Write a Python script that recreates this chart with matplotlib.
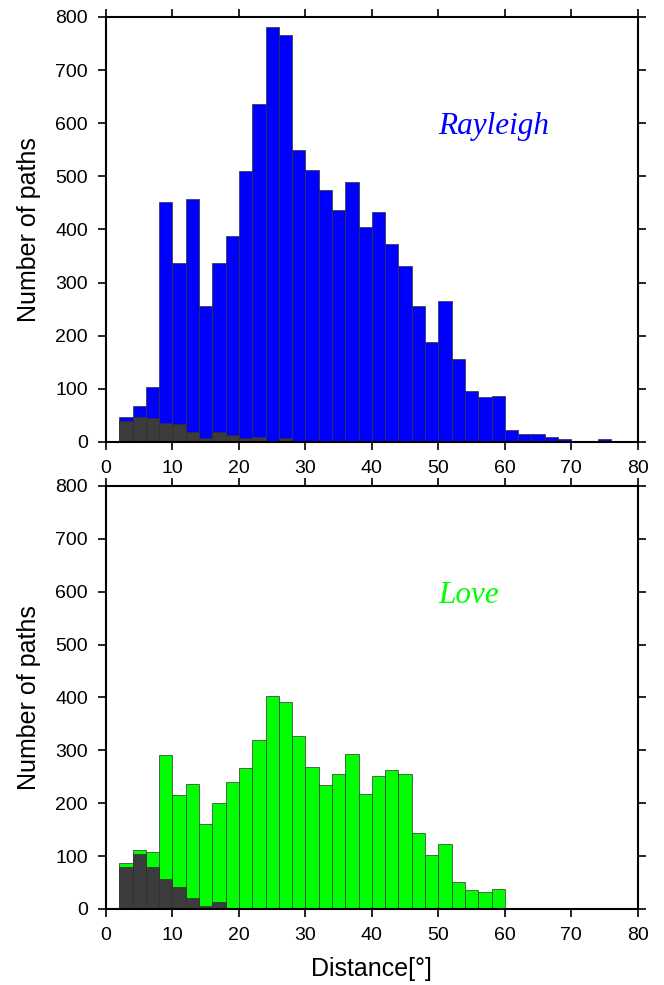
import numpy as np
import matplotlib
matplotlib.use("Agg")
import matplotlib.pyplot as plt

# 2-degree distance bins, 0..80
bin_edges = np.arange(0, 82, 2)

rayleigh_all = [1, 47, 68, 104, 451, 336, 458, 256, 336, 387,
                510, 637, 781, 766, 549, 512, 474, 436, 490, 404,
                432, 372, 332, 256, 189, 266, 156, 95, 84, 87,
                23, 15, 15, 10, 5, 1, 1, 5, 2, 0]
rayleigh_sub = [1, 40, 47, 46, 36, 33, 19, 8, 19, 13,
                8, 9, 0, 7, 0, 0, 0, 0, 0, 0,
                0, 0, 0, 0, 0, 0, 0, 0, 0, 0,
                0, 0, 0, 0, 0, 0, 0, 0, 0, 0]

love_all = [2, 86, 111, 107, 292, 216, 237, 160, 200, 241,
            266, 320, 402, 391, 327, 269, 235, 256, 294, 218,
            252, 262, 256, 144, 103, 122, 51, 35, 32, 37,
            1, 0, 0, 0, 0, 0, 0, 0, 0, 0]
love_sub = [2, 79, 104, 79, 57, 42, 20, 5, 13, 0,
            0, 0, 0, 0, 0, 0, 0, 0, 0, 0,
            0, 0, 0, 0, 0, 0, 0, 0, 0, 0,
            0, 0, 0, 0, 0, 0, 0, 0, 0, 0]

panels = [("Rayleigh", "#0000ff", rayleigh_all, rayleigh_sub),
          ("Love", "#00ff00", love_all, love_sub)]

plt.rcParams['font.family'] = ['Liberation Sans', 'DejaVu Sans']

fig = plt.figure(figsize=(6.64, 9.85), dpi=100)
rects = [[0.1596, 0.5513, 0.801, 0.4315],
         [0.1596, 0.0772, 0.801, 0.4294]]

left = bin_edges[:-1]
width = np.diff(bin_edges)

for i, (name, color, allv, subv) in enumerate(panels):
    ax = fig.add_axes(rects[i])
    ax.bar(left, allv, width=width, align='edge', color=color,
           edgecolor='#303030', linewidth=0.5)
    ax.bar(left, subv, width=width, align='edge', color='#3c3c3c',
           edgecolor='#303030', linewidth=0.5)
    ax.set_xlim(0, 80)
    ax.set_ylim(0, 800)
    ax.set_xticks(np.arange(0, 81, 10))
    ax.set_yticks(np.arange(0, 801, 100))
    ax.tick_params(direction='out', length=6, width=1.2, labelsize=14, pad=7,
                   top=True, right=True, labeltop=False, labelright=False)
    for s in ax.spines.values():
        s.set_linewidth(1.5)
    ax.set_ylabel("Number of paths", fontsize=18)
    ax.yaxis.set_label_coords(-0.122, 0.5)
    ax.text(50, 593, name, color=color, fontsize=22.5, style='italic',
            family='Liberation Serif', ha='left', va='center')
    if i == 1:
        ax.set_xlabel("Distance[°]", fontsize=18)
        ax.xaxis.set_label_coords(0.5, -0.113)

fig.savefig("out.png", dpi=100)
